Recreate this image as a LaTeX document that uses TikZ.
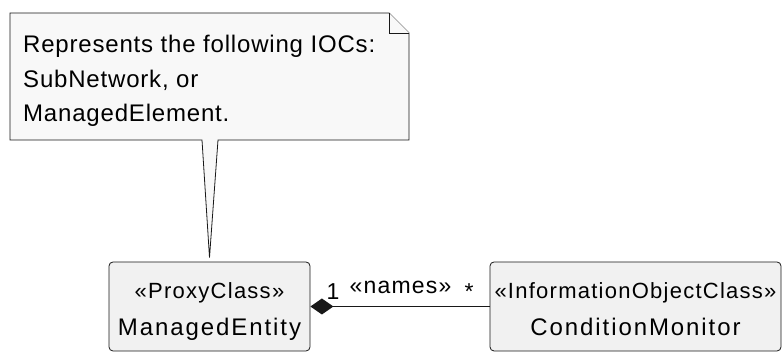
\documentclass[tikz,border=0pt]{standalone}
\usepackage{fontspec}
\setmainfont{Liberation Sans}
\usetikzlibrary{positioning,arrows.meta}
\definecolor{classgray}{HTML}{F1F1F1}
\definecolor{notegray}{HTML}{F8F8F8}
\definecolor{umlline}{HTML}{181818}
\tikzset{
  classbox/.style={draw=umlline, fill=classgray, line width=0.8pt, rounded corners=4pt, minimum height=89pt, inner sep=0pt},
  notebox/.style={draw=umlline, fill=notegray, line width=0.8pt},
  notetext/.style={anchor=base west, inner sep=0pt, font=\fontsize{24}{28}\selectfont\addfontfeature{LetterSpace=3.4}},
  stereo/.style={anchor=base, inner sep=0pt, font=\fontsize{22}{26}\selectfont\addfontfeature{LetterSpace=5.7}},
  classname/.style={anchor=base, inner sep=0pt, font=\fontsize{24}{28}\selectfont\addfontfeature{LetterSpace=8}},
  assoclabel/.style={anchor=base, inner sep=0pt, font=\fontsize{23}{27}\selectfont\addfontfeature{LetterSpace=5.3}}
}
\begin{document}
\begin{tikzpicture}[x=1pt,y=1pt]
    \useasboundingbox (0,0) rectangle (782,352);

    % Class ManagedEntity
    \node[classbox, minimum width=201pt] (me) at (209.5,45.5) {};
    \node[stereo] (meStereo) at (209.5,53) {«ProxyClass»};
    \node[classname] (meName) at (209.5,16) {ManagedEntity};

    % Class ConditionMonitor
    \node[classbox, minimum width=291pt] (cm) at (635.5,45.5) {};
    \node[stereo] (cmStereo) at (635.5,53) {«InformationObjectClass»};
    \node[classname] (cmName) at (635.5,16) {ConditionMonitor};

    % Note with its tail
    \coordinate[above=4pt of me] (tip);
    \draw[notebox] (10,339) -- (389,339) -- (409,319) -- (409,212) -- (218,212) -- (tip) -- (202,212) -- (10,212) -- cycle;
    \draw[notebox] (389,339) -- (389,319) -- (409,319);
    \node[notetext] (note1) at (23,299) {Represents the following IOCs:};
    \node[notetext] (note2) at (23,264) {SubNetwork, or};
    \node[notetext] (note3) at (23,230) {ManagedElement.};

    % Composition
    \draw[{Diamond[length=23pt,width=16pt]}-, line width=1.5pt, umlline] (me) -- (cm);
    \node[assoclabel] (multOne) at (333,52) {1};
    \node[assoclabel] (assocName) at (400.5,58) {«names»};
    \node[assoclabel] (multMany) at (469,52) {*};
\end{tikzpicture}
\end{document}
